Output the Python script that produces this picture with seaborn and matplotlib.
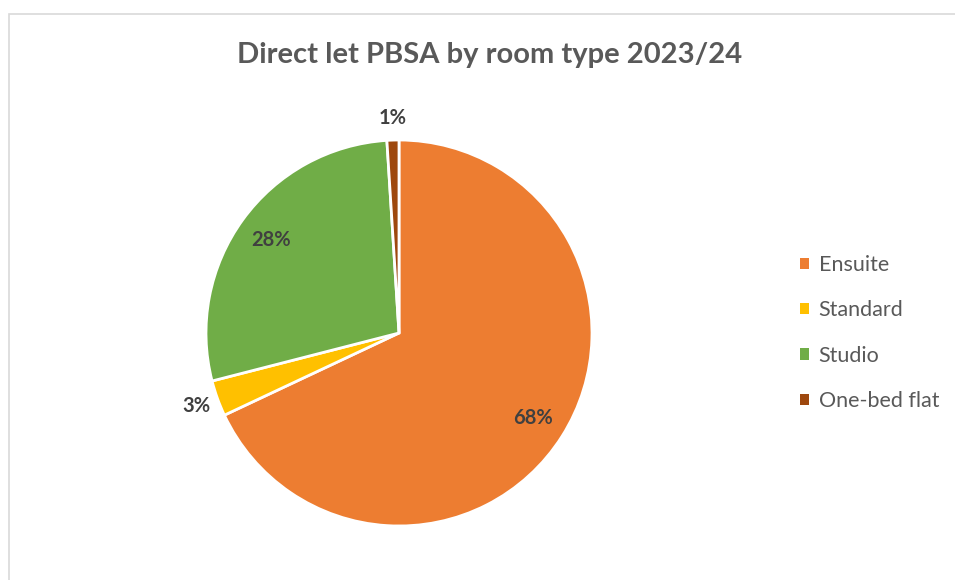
import numpy as np
import matplotlib
matplotlib.use("Agg")
import matplotlib.pyplot as plt
from matplotlib.patches import Patch, Rectangle
import seaborn as sns

# Room type shares of direct-let PBSA beds, 2023/24
room_types = ["Ensuite", "Standard", "Studio", "One-bed flat"]
shares = [68, 3, 28, 1]
colors = ["#ED7D31", "#FFC000", "#70AD47", "#9E480E"]
title = "Direct let PBSA by room type 2023/24"

sns.set_theme(style="white")
plt.rcParams["font.family"] = ["Lato", "DejaVu Sans"]
text_grey = "#595959"

W, H = 955, 580
fig = plt.figure(figsize=(W / 100, H / 100), dpi=100)
fig.patch.set_facecolor("white")

# chart frame
fig.add_artist(Rectangle((9 / W, -0.1), 1.2, (H - 14) / H + 0.1,
                         transform=fig.transFigure, fill=False,
                         edgecolor="#D9D9D9", linewidth=1.2))

# pie axes: centre and radius in pixels
cx, cy, r = 399, 333, 193
ax = fig.add_axes([(cx - r) / W, (H - cy - r) / H, 2 * r / W, 2 * r / H])
wedges, _ = ax.pie(shares, colors=colors, startangle=90, counterclock=False,
                   radius=1.0,
                   wedgeprops=dict(edgecolor="white", linewidth=2.0))
ax.set_xlim(-1, 1)
ax.set_ylim(-1, 1)
ax.set_aspect("equal")
ax.axis("off")

# percentage labels: inside for large slices, outside for small ones
for w, v in zip(wedges, shares):
    ang = np.deg2rad((w.theta1 + w.theta2) / 2)
    d = 0.82 if v >= 10 else 1.115
    ax.text(d * np.cos(ang), d * np.sin(ang), f"{v}%", ha="center",
            va="center", fontsize=14.5, fontweight="bold", color="#404040",
            clip_on=False)

fig.text(490 / W, 1 - 55 / H, title, ha="center", va="center",
         fontsize=21, fontweight="bold", color=text_grey)

handles = [Patch(facecolor=c, edgecolor="none") for c in colors]
leg = fig.legend(handles, room_types, loc="center left",
                 bbox_to_anchor=(800 / W, 1 - 333 / H), frameon=False,
                 fontsize=15.5, handlelength=0.42, handleheight=0.42,
                 handletextpad=0.45, labelspacing=1.18, borderaxespad=0,
                 borderpad=0)
for t in leg.get_texts():
    t.set_color(text_grey)

fig.savefig("out.png", dpi=100, facecolor="white")
